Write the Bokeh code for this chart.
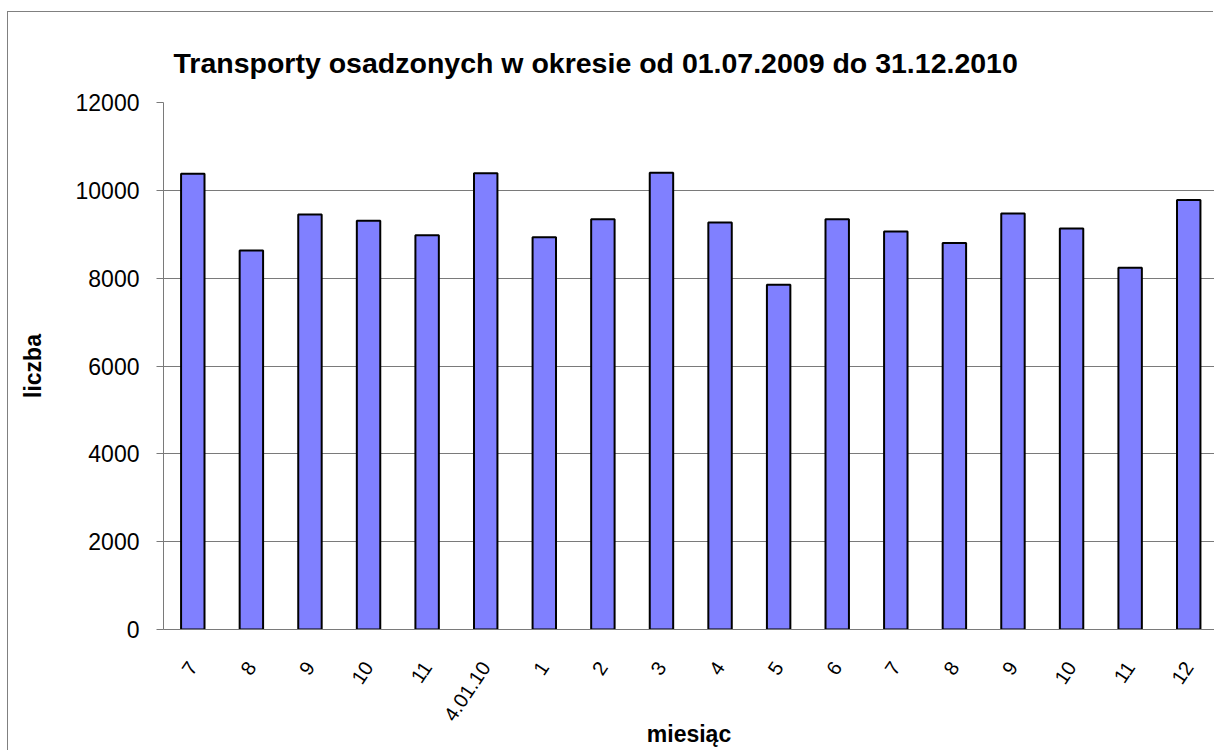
import math
from bokeh.plotting import figure
from bokeh.models import ColumnDataSource, Range1d, FixedTicker, Title
from bokeh.embed import file_html
from bokeh.resources import INLINE

# data
months = ["7", "8", "9", "10", "11", "4.01.10", "1", "2", "3", "4", "5", "6",
          "7", "8", "9", "10", "11", "12"]
counts = [10380, 8630, 9450, 9310, 8980, 10390, 8930, 9340, 10400, 9270,
          7850, 9340, 9060, 8800, 9470, 9130, 8240, 9780]
y_ticks = [0, 2000, 4000, 6000, 8000, 10000, 12000]

title_text = "Transporty osadzonych w okresie od 01.07.2009 do 31.12.2010"
x_title = "miesiąc"
y_title = "liczba"

pos = list(range(len(months)))
src = ColumnDataSource(dict(x=pos, top=counts, label=months))

FONT = "Liberation Sans"
W, H = 1206, 739

p = figure(width=W, height=H, output_backend="svg", toolbar_location=None,
           x_range=Range1d(-0.5, 17.44), y_range=Range1d(0, 12000),
           min_border_left=155, min_border_right=0, min_border_top=90,
           min_border_bottom=122,
           styles={"margin-left": "8px", "margin-top": "12px",
                   "box-shadow": "-1px -1px 0 0 #808080"})

p.title = Title(text=title_text, text_font=FONT, text_font_size="28.5px",
                text_font_style="bold", text_color="black", align="left",
                offset=10, standoff=47)

p.vbar(x="x", top="top", width=0.40, bottom=0, source=src,
       fill_color="#8080FF", line_color="black", line_width=2)

p.outline_line_color = None
p.background_fill_color = "white"
p.border_fill_color = "white"

# grid
p.xgrid.grid_line_color = None
p.ygrid.grid_line_color = "#7a7a7a"
p.ygrid.grid_line_width = 1

# y axis
ya = p.yaxis[0]
ya.ticker = FixedTicker(ticks=y_ticks)
ya.axis_line_color = "#7a7a7a"
ya.major_tick_line_color = "#7a7a7a"
ya.major_tick_out = 7
ya.major_tick_in = 0
ya.minor_tick_line_color = None
ya.major_label_text_font = FONT
ya.major_label_text_font_size = "23px"
ya.major_label_text_color = "black"
ya.major_label_standoff = 17
ya.axis_label = y_title
ya.axis_label_text_font = FONT
ya.axis_label_text_font_size = "23px"
ya.axis_label_text_font_style = "bold"
ya.axis_label_text_color = "black"
ya.axis_label_standoff = 27

# x axis
xa = p.xaxis[0]
xa.ticker = FixedTicker(ticks=pos)
xa.major_label_overrides = {i: m for i, m in zip(pos, months)}
xa.major_label_orientation = math.radians(56)
xa.axis_line_color = "#7a7a7a"
xa.major_tick_line_color = None
xa.minor_tick_line_color = None
xa.major_label_text_font = FONT
xa.major_label_text_font_size = "20px"
xa.major_label_text_color = "black"
xa.major_label_standoff = 28
xa.axis_label = x_title
xa.axis_label_text_font = FONT
xa.axis_label_text_font_size = "23px"
xa.axis_label_text_font_style = "bold"
xa.axis_label_text_color = "black"
xa.axis_label_standoff = -9

open("out.html", "w").write(file_html(p, INLINE))
